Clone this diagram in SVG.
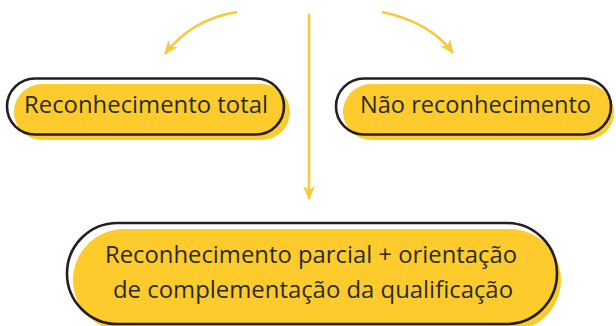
<svg xmlns="http://www.w3.org/2000/svg" width="616" height="326" viewBox="0 0 616 326">
<style>
.fill{fill:#FDCB2C}
.outline{fill:none;stroke:#231F20;stroke-width:2.6}
.lbl{font-family:"Open Sans","Noto Sans",sans-serif;font-size:23.5px;fill:#2B2B2B;text-anchor:middle}
.conn{fill:none;stroke:#F8C93B;stroke-width:2.6}
</style>
<defs>
<marker id="ah" markerUnits="userSpaceOnUse" viewBox="0 0 14 12" markerWidth="14" markerHeight="12" refX="13" refY="6" orient="auto">
<path d="M0,0 L14,6 L0,12 L4,6 Z" fill="#F8C93B"/>
</marker>
</defs>
<rect width="616" height="326" fill="#FFFFFF"/>
<g id="connectors">
<path class="conn" d="M237,12 Q192,19 165,54" marker-end="url(#ah)"/>
<path class="conn" d="M382,12 Q430,22 453,53" marker-end="url(#ah)"/>
<path class="conn" d="M309,14 L309,199" marker-end="url(#ah)"/>
</g>
<g id="node-total">
<rect class="fill" x="14" y="84" width="276" height="56" rx="28"/>
<rect class="outline" x="7" y="78.5" width="277" height="56" rx="28"/>
<text class="lbl" x="146" y="113" textLength="244" lengthAdjust="spacingAndGlyphs">Reconhecimento total</text>
</g>
<g id="node-nao">
<rect class="fill" x="343" y="84" width="271" height="56" rx="28"/>
<rect class="outline" x="336" y="78.5" width="275" height="56" rx="28"/>
<text class="lbl" x="475.5" y="113" textLength="231" lengthAdjust="spacingAndGlyphs">Não reconhecimento</text>
</g>
<g id="node-parcial">
<rect class="fill" x="73" y="229" width="488" height="102" rx="51"/>
<rect class="outline" x="67" y="223" width="490" height="101" rx="50.5"/>
<text class="lbl" x="311" y="263" textLength="412" lengthAdjust="spacingAndGlyphs">Reconhecimento parcial + orientação</text>
<text class="lbl" x="313" y="298" textLength="400" lengthAdjust="spacingAndGlyphs">de complementação da qualificação</text>
</g>
</svg>
